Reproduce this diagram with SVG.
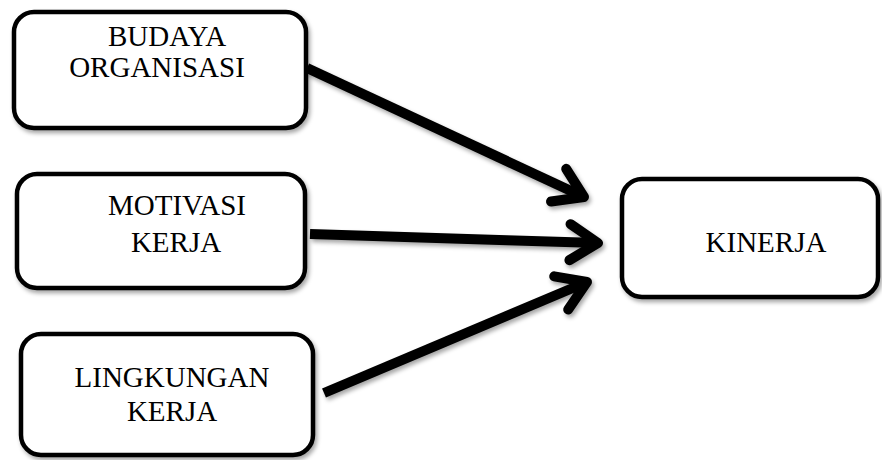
<svg xmlns="http://www.w3.org/2000/svg" width="882" height="460" viewBox="0 0 882 460">
<defs>
<style>
.box{fill:#fff;stroke:#000;stroke-width:4.5;filter:url(#sh)}
.lbl{font-family:"Liberation Serif","Times New Roman",serif;font-size:29px;fill:#000;text-anchor:middle}
.conn{fill:none;stroke:#000;stroke-width:10;marker-end:url(#arr)}
</style>
<filter id="sh" x="-20%" y="-20%" width="140%" height="140%">
<feDropShadow dx="2" dy="3" stdDeviation="2" flood-color="#000" flood-opacity="0.35"/>
</filter>
<marker id="arr" markerUnits="userSpaceOnUse" viewBox="-40 -30 50 60" markerWidth="50" markerHeight="60" refX="0" refY="0" orient="auto" overflow="visible">
<path d="M -28 -18 L 0 0 L -28 18" fill="none" stroke="#000" stroke-width="10" stroke-linecap="round" stroke-linejoin="round"/>
</marker>
</defs>
<rect width="882" height="460" fill="#fff"/>
<g id="connectors" filter="url(#sh)">
<path class="conn" d="M 307 68 L 584 197"/>
<path class="conn" d="M 310 234 L 598 243"/>
<path class="conn" d="M 324 393 L 587 282"/>
</g>
<g id="budaya">
<rect class="box" x="14" y="12" width="292" height="116" rx="20"/>
<text class="lbl" x="167" y="46">BUDAYA</text>
<text class="lbl" x="157" y="77">ORGANISASI</text>
</g>
<g id="motivasi">
<rect class="box" x="17" y="174" width="288" height="114" rx="20"/>
<text class="lbl" x="177" y="215">MOTIVASI</text>
<text class="lbl" x="176" y="252">KERJA</text>
</g>
<g id="lingkungan">
<rect class="box" x="21" y="334" width="292" height="121" rx="20"/>
<text class="lbl" x="172" y="387">LINGKUNGAN</text>
<text class="lbl" x="172" y="421">KERJA</text>
</g>
<g id="kinerja">
<rect class="box" x="622" y="179" width="256" height="118" rx="20"/>
<text class="lbl" x="766" y="252">KINERJA</text>
</g>
</svg>
